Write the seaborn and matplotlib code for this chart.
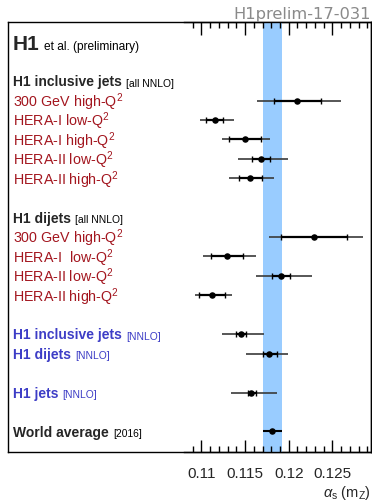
import numpy as np
import pandas as pd
import matplotlib
matplotlib.use("Agg")
import matplotlib.pyplot as plt
from matplotlib.ticker import MultipleLocator, FixedLocator, FixedFormatter, NullLocator
import seaborn as sns

# ---------------- data ----------------
point_labels = ["300 GeV high-Q$^2$", "HERA-I low-Q$^2$", "HERA-I high-Q$^2$",
                "HERA-II low-Q$^2$", "HERA-II high-Q$^2$",
                "300 GeV high-Q$^2$", "HERA-I  low-Q$^2$", "HERA-II low-Q$^2$",
                "HERA-II high-Q$^2$"]
point_rows = [3, 4, 5, 6, 7, 10, 11, 12, 13]

combined_labels = ["H1 inclusive jets", "H1 dijets", "H1 jets"]
combined_suffix = ["[NNLO]", "[NNLO]", "[NNLO]"]
combined_rows = [15, 16, 18]

header_labels = ["H1 inclusive jets", "H1 dijets", "World average"]
header_suffix = ["[all NNLO]", "[all NNLO]", "[2016]"]
header_rows = [2, 9, 20]

meas_rows = point_rows + combined_rows
alpha_s = [0.1210, 0.1115, 0.1150, 0.1168, 0.1156,
           0.1229, 0.1129, 0.1191, 0.1112,
           0.1145, 0.1177, 0.1157]
exp_lo = [0.1183, 0.1105, 0.1132, 0.1158, 0.1143,
          0.1191, 0.1111, 0.1181, 0.1097,
          0.1139, 0.1170, 0.1153]
exp_hi = [0.1237, 0.1125, 0.1168, 0.1178, 0.1169,
          0.1267, 0.1147, 0.1201, 0.1127,
          0.1151, 0.1186, 0.1163]
tot_lo = [0.1164, 0.1098, 0.1123, 0.1142, 0.1132,
          0.1177, 0.1102, 0.1162, 0.1092,
          0.1124, 0.1151, 0.1134]
tot_hi = [0.1260, 0.1137, 0.1179, 0.1199, 0.1183,
          0.1285, 0.1163, 0.1227, 0.1135,
          0.1172, 0.1199, 0.1187]

world_row = 20
world_avg = 0.1181
world_unc = 0.0011

major_ticks = [0.11, 0.115, 0.12, 0.125]
tick_labels = ["0.11", "0.115", "0.12", "0.125"]
x_range = (0.10803, 0.12939)

# ---------------- style ----------------
sns.set_theme(style="ticks")
plt.rcParams["font.family"] = ["Liberation Sans", "DejaVu Sans"]
plt.rcParams["mathtext.fontset"] = "custom"
plt.rcParams["mathtext.rm"] = "Liberation Sans"
plt.rcParams["mathtext.it"] = "Liberation Sans:italic"
plt.rcParams["mathtext.bf"] = "Liberation Sans:bold"

RED = "#a3161f"
BLUE = "#3d3dc6"
BAND = "#99ccff"

W, H = 372, 503
fig = plt.figure(figsize=(W / 100, H / 100), dpi=100)

top_px, bot_px = 22.3, 451.7
left_px, right_px, data_left_px = 8.3, 370.7, 184.3
ylim = (21.04, -1.02)

frame = fig.add_axes([left_px / W, (H - bot_px) / H, (right_px - left_px) / W, (bot_px - top_px) / H])
frame.set_xlim(0, 1)
frame.set_ylim(*ylim)
frame.xaxis.set_major_locator(NullLocator())
frame.yaxis.set_major_locator(NullLocator())
for s in frame.spines.values():
    s.set_visible(True)
    s.set_color("black")
    s.set_linewidth(1.0)
frame.set_zorder(0)

data_rect = [data_left_px / W, (H - bot_px) / H, (right_px - data_left_px) / W, (bot_px - top_px) / H]

ax = fig.add_axes(data_rect)
ax.set_zorder(1)
ax.patch.set_alpha(0)
for s in ax.spines.values():
    s.set_visible(False)

ax.axvspan(world_avg - world_unc, world_avg + world_unc, color=BAND, lw=0, zorder=0)
ax.hlines(meas_rows, tot_lo, tot_hi, color="#3a3a3a", lw=1.2, zorder=2)
a = np.array(alpha_s)
ax.errorbar(a, meas_rows, xerr=[a - np.array(exp_lo), np.array(exp_hi) - a],
            fmt="none", ecolor="black", elinewidth=1.6, capsize=2.3, capthick=1.0, zorder=3)
ax.hlines([world_row], [world_avg - world_unc], [world_avg + world_unc], color="black", lw=1.5, zorder=3)

df = pd.DataFrame({"alpha_s": alpha_s + [world_avg], "row": meas_rows + [world_row]})
sns.scatterplot(data=df, x="alpha_s", y="row", ax=ax, color="black", s=22,
                edgecolor="black", linewidth=0, zorder=4, legend=False)
ax.set_xlim(*x_range)
ax.set_ylim(*ylim)
ax.set_xlabel("")
ax.set_ylabel("")
ax.tick_params(axis="both", which="both", bottom=False, top=False, left=False,
               labelbottom=False, labelleft=False)

# axis carrying the alpha_s scale
tax = fig.add_axes(data_rect)
tax.set_zorder(2)
tax.patch.set_alpha(0)
tax.set_xlim(*x_range)
tax.spines["left"].set_color("none")
for name in ("top", "bottom", "right"):
    tax.spines[name].set_color("black")
    tax.spines[name].set_linewidth(1.0)
tax.tick_params(axis="y", which="both", left=False, right=False, labelleft=False)
tax.xaxis.set_major_locator(FixedLocator(major_ticks))
tax.xaxis.set_major_formatter(FixedFormatter(tick_labels))
tax.xaxis.set_minor_locator(MultipleLocator(0.001))
tax.tick_params(axis="x", which="both", direction="in", top=True, bottom=True,
                color="black", width=1.0)
tax.tick_params(axis="x", which="major", length=9, pad=11, labelsize=11)
tax.tick_params(axis="x", which="minor", length=4.5)
tax.set_xlabel(r"$\alpha_\mathrm{s}$ (m$_\mathrm{Z}$)", fontsize=10.5, loc="right", labelpad=2)

# ---------------- texts ----------------
tx = (13 - left_px) / (right_px - left_px)


def suffix_after(t, text, color, size, gap_pt=3):
    frame.annotate(text, xy=(1, 0), xycoords=t, xytext=(gap_pt, 0.6),
                   textcoords="offset points", color=color, fontsize=size,
                   ha="left", va="bottom")


t = frame.text(tx, 0.38, "H1", fontsize=15, fontweight="bold", va="baseline", ha="left")
suffix_after(t, "et al. (preliminary)", "black", 8.6)

for lab, r in zip(point_labels, point_rows):
    frame.text(tx, r + 0.33, lab, color=RED, fontsize=10.3, va="baseline", ha="left")

for lab, suf, r in zip(header_labels, header_suffix, header_rows):
    t = frame.text(tx, r + 0.27, lab, fontsize=10, fontweight="bold", va="baseline", ha="left")
    suffix_after(t, suf, "black", 7.4)

for lab, suf, r in zip(combined_labels, combined_suffix, combined_rows):
    t = frame.text(tx, r + 0.27, lab, color=BLUE, fontsize=10, fontweight="bold", va="baseline", ha="left")
    suffix_after(t, suf, BLUE, 7.4)

fig.text(371 / W, (H - 18.5) / H, "H1prelim-17-031", color="#8a8a8a", fontsize=11.7,
         family="DejaVu Sans", ha="right", va="baseline")

fig.savefig("out.png", dpi=100)
